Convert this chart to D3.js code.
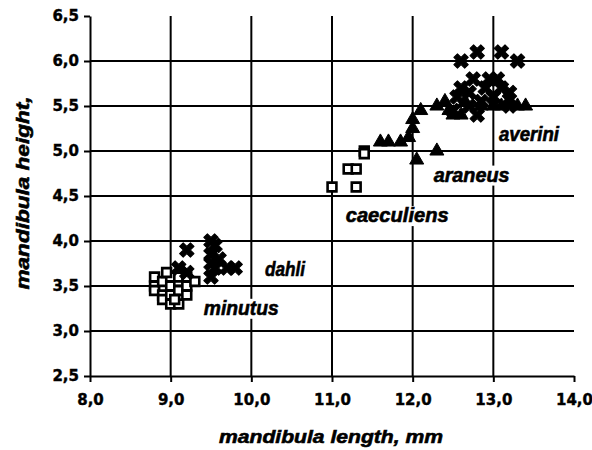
<!DOCTYPE html>
<html>
<head>
<meta charset="utf-8">
<script src="https://cdn.jsdelivr.net/npm/d3@7"></script>
<style>
  body { margin: 0; background: #fff; }
  svg { display: block; }
  .tick text { font-family: "DejaVu Sans", sans-serif; font-weight: bold; font-size: 15px; fill: #000; stroke: #000; stroke-width: 0.4px; }
  .lab { font-family: "Liberation Sans", Arial, sans-serif; font-weight: bold; font-style: italic; fill: #000; stroke: #000; stroke-width: 0.6px; }
</style>
</head>
<body>
<div id="chart"></div>
<script>
const W = 592;
const H = 450;

// [length, height] pairs
var minutus = [[8.8,3.6],[8.8,3.5],[8.8,3.45],[8.9,3.55],[8.9,3.4],[8.9,3.35],[9.0,3.6],[9.0,3.5],
  [9.0,3.3],[9.0,3.4],[9.1,3.55],[9.1,3.45],[9.1,3.3],[9.1,3.6],[9.2,3.5],[9.2,3.4],[9.2,3.6],
  [9.3,3.55],[8.95,3.65],[9.05,3.35]];
var dahli = [[9.2,3.9],[9.1,3.7],[9.5,4.0],[9.55,3.95],[9.5,3.85],[9.5,3.75],[9.55,3.7],[9.5,3.6],
  [9.6,3.8],[9.7,3.7],[9.8,3.7],[9.2,3.65]];
var caeculiens = [[11.0,4.6],[11.3,4.6],[11.2,4.8],[11.3,4.8],[11.4,5.0],[11.4,4.97]];
var araneus = [[11.6,5.1],[11.7,5.1],[11.85,5.1],[11.95,5.15],[12.0,5.25],[12.0,5.35],[12.1,5.45],
  [12.05,4.9],[12.3,5.0],[12.3,5.5],[12.45,5.45],[12.5,5.4],[12.6,5.4],[12.65,5.55],[13.0,5.5],
  [13.1,5.5],[13.2,5.55],[13.3,5.5],[13.4,5.5],[12.85,5.5],[12.4,5.55]];
var averini = [[12.6,6.0],[12.8,6.1],[13.1,6.1],[13.3,6.0],[12.75,5.8],[13.05,5.8],[12.95,5.8],
  [12.6,5.7],[12.7,5.65],[13.1,5.7],[13.2,5.65],[12.55,5.6],[12.85,5.55],[12.7,5.5],[13.2,5.5],
  [12.8,5.4],[12.5,5.45],[13.0,5.6],[12.9,5.7]];

var xTicks = [8, 9, 10, 11, 12, 13, 14];
var yTicks = [2.5, 3.0, 3.5, 4.0, 4.5, 5.0, 5.5, 6.0, 6.5];
var xGrid = [9, 10, 11, 12, 13];
var yGrid = [3.0, 3.5, 4.0, 4.5, 5.0, 5.5, 6.0];

// species names, anchored at [length, height] of their left baseline
var labelNames = ["minutus", "dahli", "caeculiens", "araneus", "averini"];
var labelPos = [[9.41,3.18],[10.17,3.61],[11.17,4.21],[12.26,4.66],[13.07,5.11]];
var labelWidth = [75, 40, 103, 76, 60];

var fmt = d3.formatLocale({decimal: ",", thousands: ".", grouping: [3], currency: ["", ""]}).format(".1f");

var x = d3.scaleLinear().domain([8, 14]).range([90, 574]);
var y = d3.scaleLinear().domain([2.5, 6.5]).range([376, 16]);

var svg = d3.select("#chart").append("svg")
  .attr("width", W)
  .attr("height", H);

// grid
svg.selectAll("line.vg")
  .data(xGrid)
  .enter()
  .append("line")
  .attr("class", "vg")
  .attr("x1", d => x(d)).attr("x2", d => x(d))
  .attr("y1", y(6.5)).attr("y2", y(2.5))
  .attr("stroke", "#000").attr("stroke-width", 2);

svg.selectAll("line.hg")
  .data(yGrid)
  .enter()
  .append("line")
  .attr("class", "hg")
  .attr("x1", x(8)).attr("x2", x(14))
  .attr("y1", d => y(d)).attr("y2", d => y(d))
  .attr("stroke", "#000").attr("stroke-width", 2);

// axes
var xAxis = svg.append("g")
  .attr("transform", "translate(0," + y(2.5) + ")")
  .call(d3.axisBottom(x).tickValues(xTicks).tickFormat(fmt).tickSize(6).tickSizeOuter(0).tickPadding(12));

var yAxis = svg.append("g")
  .attr("transform", "translate(" + x(8) + ",0)")
  .call(d3.axisLeft(y).tickValues(yTicks).tickFormat(fmt).tickSize(6).tickSizeOuter(0).tickPadding(5));

[xAxis, yAxis].forEach(g => {
  g.select(".domain").attr("stroke", "#000").attr("stroke-width", 2);
  g.selectAll(".tick line").attr("stroke", "#000").attr("stroke-width", 2);
});

// species labels with white boxes that hide the grid
labelNames.forEach((name, i) => {
  var g = svg.append("g");
  var t = g.append("text")
    .attr("class", "lab")
    .attr("x", x(labelPos[i][0]))
    .attr("y", y(labelPos[i][1]))
    .attr("font-size", 20)
    .attr("textLength", labelWidth[i])
    .attr("lengthAdjust", "spacingAndGlyphs")
    .text(name);
  var bb = t.node().getBBox();
  g.insert("rect", "text")
    .attr("x", bb.x - 2).attr("y", bb.y + 2)
    .attr("width", bb.width + 4).attr("height", bb.height - 2)
    .attr("fill", "#fff");
});

// markers
var sq = d3.symbol().type(d3.symbolSquare).size(78);
var tri = d3.symbol().type(d3.symbolTriangle).size(85);
var crs = d3.symbol().type(d3.symbolCross).size(130);

var drawSquares = (data) => {
  svg.append("g").selectAll("path")
    .data(data)
    .enter()
    .append("path")
    .attr("d", sq)
    .attr("transform", d => "translate(" + x(d[0]) + "," + y(d[1]) + ")")
    .attr("fill", "#fff")
    .attr("stroke", "#000")
    .attr("stroke-width", 2.6);
}

var drawTriangles = (data) => {
  svg.append("g").selectAll("path")
    .data(data)
    .enter()
    .append("path")
    .attr("d", tri)
    .attr("transform", d => "translate(" + x(d[0]) + "," + y(d[1]) + ")")
    .attr("fill", "#000")
    .attr("stroke", "#000")
    .attr("stroke-linejoin", "round")
    .attr("stroke-width", 1);
}

var drawCrosses = (data) => {
  svg.append("g").selectAll("path")
    .data(data)
    .enter()
    .append("path")
    .attr("d", crs)
    .attr("transform", d => "translate(" + x(d[0]) + "," + y(d[1]) + ") rotate(45)")
    .attr("fill", "#000")
    .attr("stroke", "#000")
    .attr("stroke-linejoin", "round")
    .attr("stroke-width", 1);
}

drawSquares(minutus);
drawSquares(caeculiens);
drawCrosses(dahli);
drawTriangles(araneus);
drawCrosses(averini);

// axis titles
svg.append("text")
  .attr("class", "lab")
  .attr("x", 331)
  .attr("y", 443)
  .attr("text-anchor", "middle")
  .attr("font-size", 19)
  .attr("textLength", 224)
  .attr("lengthAdjust", "spacingAndGlyphs")
  .text("mandibula length, mm");

svg.append("text")
  .attr("class", "lab")
  .attr("transform", "translate(29,193) rotate(-90)")
  .attr("text-anchor", "middle")
  .attr("font-size", 19)
  .attr("textLength", 193)
  .attr("lengthAdjust", "spacingAndGlyphs")
  .text("mandibula height,");
</script>
</body>
</html>
